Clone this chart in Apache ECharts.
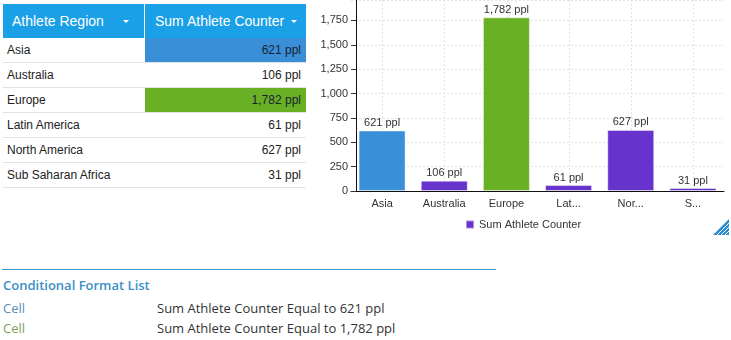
<!DOCTYPE html>
<html>
<head>
<meta charset="utf-8">
<script src="https://cdn.jsdelivr.net/npm/echarts@6/dist/echarts.min.js"></script>
<style>
  html, body { margin:0; padding:0; background:#fff; width:731px; height:340px; overflow:hidden; }
  body { position:relative; font-family:"Liberation Sans", Arial, sans-serif; }
  #tbl { position:absolute; left:3px; top:4px; width:303px; border-collapse:collapse; font-size:12px; color:#222; }
  #tbl th { background:#1aa0e6; color:#fff; font-weight:normal; font-size:14px; height:34px; text-align:left; padding:0; }
  #tbl th.c1 { width:132px; padding-left:9px; border-right:1px solid #fff; }
  #tbl th.c2 { padding-left:10px; }
  .dd { position:absolute; top:20px; width:0; height:0; border-left:3px solid transparent; border-right:3px solid transparent; border-top:3px solid #fff; z-index:3; }
  #tbl td { height:24px; padding:0; border-bottom:1px solid #e2e2e2; }
  #tbl td.n { padding-left:4px; }
  #tbl td.v { text-align:right; padding-right:5px; }
  #chart { position:absolute; left:0; top:0; width:731px; height:340px; z-index:2; pointer-events:none; }
  #cfl { position:absolute; left:2px; top:269px; width:494px; border-top:1px solid #3d9bd1; font-family:"Open Sans", sans-serif; }
  #cfl .title { color:#3b8fc7; font-size:13px; font-weight:600; margin-top:5px; margin-left:1px; height:21px; line-height:20px; }
  #cfl .row { height:20px; line-height:24px; font-size:13px; position:relative; }
  #cfl .row .k { position:absolute; left:1px; }
  #cfl .row .d { position:absolute; left:155px; color:#333; }
  #rs { position:absolute; left:713px; top:219px; }
</style>
</head>
<body>
<table id="tbl"></table>
<span class="dd" style="left:123px"></span>
<span class="dd" style="left:291px"></span>
<div id="cfl"></div>
<svg id="rs" width="16" height="16" viewBox="0 0 16 16">
  <polygon points="16,0 16,16 0,16" fill="#2a8fd0"/>
  <line x1="16" y1="4" x2="4" y2="16" stroke="#fff" stroke-width="1"/>
  <line x1="16" y1="8" x2="8" y2="16" stroke="#fff" stroke-width="1"/>
  <line x1="16" y1="12" x2="12" y2="16" stroke="#fff" stroke-width="1"/>
</svg>
<div id="chart"></div>
<script>
// ---- data ----
const categories = ["Asia", "Australia", "Europe", "Latin America", "North America", "Sub Saharan Africa"];
const tickLabels = ["Asia", "Australia", "Europe", "Lat...", "Nor...", "S..."];
const athleteCounts = [621, 106, 1782, 61, 627, 31];
const yTicks = [0, 250, 500, 750, 1000, 1250, 1500, 1750];
const headers = ["Athlete Region", "Sum Athlete Counter"];
const seriesName = "Sum Athlete Counter";
const formatRuleValues = [621, 1782];
const formatRuleColors = ["#3a8fd9", "#69b024"];
const formatRuleKeyColors = ["#5a8db5", "#7ea15a"];
const defaultBarColor = "#6633cc";

const fmt = v => v.toLocaleString("en-US");
const ruleColor = v => { const i = formatRuleValues.indexOf(v); return i >= 0 ? formatRuleColors[i] : null; };

// ---- table ----
const tbl = document.getElementById("tbl");
let html = '<tr><th class="c1">' + headers[0] + '</th><th class="c2">' + headers[1] + '</th></tr>';
categories.forEach((c, i) => {
  const v = athleteCounts[i];
  const col = ruleColor(v);
  const st = col ? ' style="background:' + col + ';color:#1a2230"' : '';
  html += '<tr><td class="n">' + c + '</td><td class="v"' + st + '>' + fmt(v) + ' ppl</td></tr>';
});
tbl.innerHTML = html;

// ---- conditional format list ----
const cfl = document.getElementById("cfl");
let ch = '<div class="title">Conditional Format List</div>';
formatRuleValues.forEach((v, i) => {
  ch += '<div class="row"><span class="k" style="color:' + formatRuleKeyColors[i] + '">Cell</span><span class="d">' + seriesName + ' Equal to ' + fmt(v) + ' ppl</span></div>';
});
cfl.innerHTML = ch;

// ---- chart ----
const chart = echarts.init(document.getElementById("chart"), null, { renderer: "canvas" });
const font = '"Liberation Sans", Arial, sans-serif';
const gridTop = 0, gridBottom = 149;
chart.setOption({
  animation: false,
  textStyle: { fontFamily: font },
  legend: {
    left: 465, top: 219, padding: 0, itemWidth: 8, itemHeight: 8, itemGap: 5,
    icon: "rect",
    textStyle: { fontSize: 11, color: "#333", fontFamily: font },
    data: [{ name: seriesName, itemStyle: { color: defaultBarColor } }]
  },
  grid: [
    { left: 351, right: 7, top: gridTop, bottom: gridBottom },
    { left: 382.5, right: 37.5, top: gridTop, bottom: gridBottom }
  ],
  xAxis: [
    {
      type: "category", gridIndex: 0, data: categories,
      axisLine: { lineStyle: { color: "#111", width: 1 } },
      axisTick: { show: false },
      axisLabel: { color: "#333", fontSize: 11, margin: 7, interval: 0,
        formatter: (v) => tickLabels[categories.indexOf(v)] },
      splitLine: { show: false }
    },
    {
      type: "value", gridIndex: 1, min: 0, max: categories.length - 1, interval: 1,
      axisLine: { show: false }, axisTick: { show: false }, axisLabel: { show: false },
      splitLine: { show: true, lineStyle: { color: "#e2e2e2", type: [2, 2] } }
    }
  ],
  yAxis: [
    {
      type: "value", gridIndex: 0, min: 0, max: 1960, interval: 250, offset: -5,
      axisLine: { show: true, lineStyle: { color: "#111", width: 1 } },
      axisTick: { show: true, length: 5, lineStyle: { color: "#333" } },
      axisLabel: { color: "#333", fontSize: 11, margin: 8, showMaxLabel: false,
        formatter: v => yTicks.indexOf(v) >= 0 ? fmt(v) : "" },
      splitLine: { show: true, lineStyle: { color: "#e2e2e2", type: [2, 2] } }
    },
    {
      type: "value", gridIndex: 1, show: false, min: 0, max: 1,
      splitLine: { show: false }
    }
  ],
  series: [{
    name: seriesName, type: "bar", xAxisIndex: 0, yAxisIndex: 0,
    barWidth: 47,
    data: athleteCounts.map(v => ({
      value: v,
      itemStyle: { color: ruleColor(v) || defaultBarColor }
    })),
    itemStyle: { borderColor: "rgba(255,255,255,0.45)", borderWidth: 1 },
    label: {
      show: true, position: "top", distance: 2, color: "#333", fontSize: 11,
      formatter: p => fmt(p.value) + " ppl"
    }
  }]
});
</script>
</body>
</html>
